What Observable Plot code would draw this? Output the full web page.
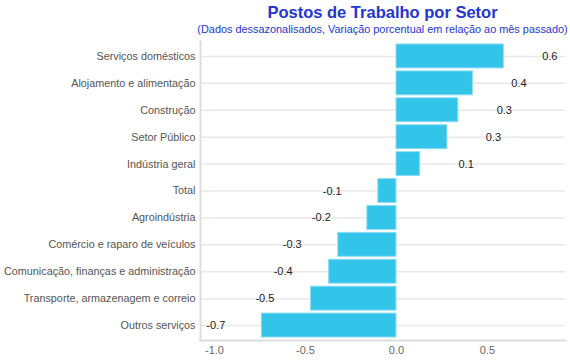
<!DOCTYPE html>
<html>
<head>
<meta charset="utf-8">
<script src="https://cdn.jsdelivr.net/npm/d3@7"></script>
<script src="https://cdn.jsdelivr.net/npm/@observablehq/plot@0.6"></script>
<style>
  html, body { margin: 0; padding: 0; background: #fff; }
  body { width: 570px; height: 360px; overflow: hidden; font-family: "Liberation Sans", Arial, sans-serif; }
  #head { position: relative; width: 570px; height: 37px; }
  #title { position: absolute; left: 200px; width: 365px; top: 2px; text-align: center; font-size: 16.5px; font-weight: bold; color: #2236d0; line-height: 20px; white-space: nowrap; }
  #subtitle { position: absolute; left: 160px; width: 445px; top: 23px; text-align: center; font-size: 10.9px; color: #2236d0; line-height: 13px; white-space: nowrap; }
  #chart svg { display: block; }
</style>
</head>
<body>
<div id="head">
  <div id="title">Postos de Trabalho por Setor</div>
  <div id="subtitle">(Dados dessazonalisados, Variação porcentual em relação ao mês passado)</div>
</div>
<div id="chart"></div>
<script>
const sectors = [
  "Serviços domésticos",
  "Alojamento e alimentação",
  "Construção",
  "Setor Público",
  "Indústria geral",
  "Total",
  "Agroindústria",
  "Comércio e raparo de veículos",
  "Comunicação, finanças e administração",
  "Transporte, armazenagem e correio",
  "Outros serviços"
];
const changes = [0.59, 0.42, 0.34, 0.28, 0.13, -0.10, -0.16, -0.32, -0.37, -0.47, -0.74];
const xTicks = [-1.0, -0.5, 0.0, 0.5];

const data = sectors.map((s, i) => ({sector: s, value: changes[i]}));

const chart = Plot.plot({
  width: 570,
  height: 323,
  marginLeft: 200,
  marginRight: 5,
  marginTop: 4,
  marginBottom: 20,
  style: {fontFamily: "'Liberation Sans', Arial, sans-serif", fontSize: "11px", background: "#fff"},
  x: {domain: [-1.077, 0.929], ticks: xTicks, tickFormat: d => d.toFixed(1), label: null, tickSize: 0, tickPadding: 6},
  y: {domain: sectors, padding: 0.11, round: false, label: null, tickSize: 0, tickPadding: 5},
  marks: [
    Plot.gridY({stroke: "#e8e8e8", strokeOpacity: 1, strokeWidth: 1.5}),
    Plot.frame({anchor: "left", stroke: "#dddddd", strokeWidth: 2}),
    Plot.frame({anchor: "bottom", stroke: "#dddddd", strokeWidth: 2}),
    Plot.barX(data, {x: "value", y: "sector", fill: "#33c4ea", stroke: "#8fdcf3", strokeWidth: 1}),
    Plot.text(data.filter(d => d.value >= 0), {x: "value", y: "sector", text: d => d.value.toFixed(1), dx: 46, fill: "#222", fontSize: 11}),
    Plot.text(data.filter(d => d.value < 0), {x: "value", y: "sector", text: d => d.value.toFixed(1), dx: -46, fill: "#222", fontSize: 11}),
    Plot.axisY({tickSize: 0, tickPadding: 5, fill: "#555", fontSize: 10.8, label: null}),
    Plot.axisX({ticks: xTicks, tickFormat: d => d.toFixed(1), tickSize: 0, tickPadding: 6, fill: "#666", fontSize: 11, label: null})
  ]
});
document.getElementById("chart").appendChild(chart);
</script>
</body>
</html>
